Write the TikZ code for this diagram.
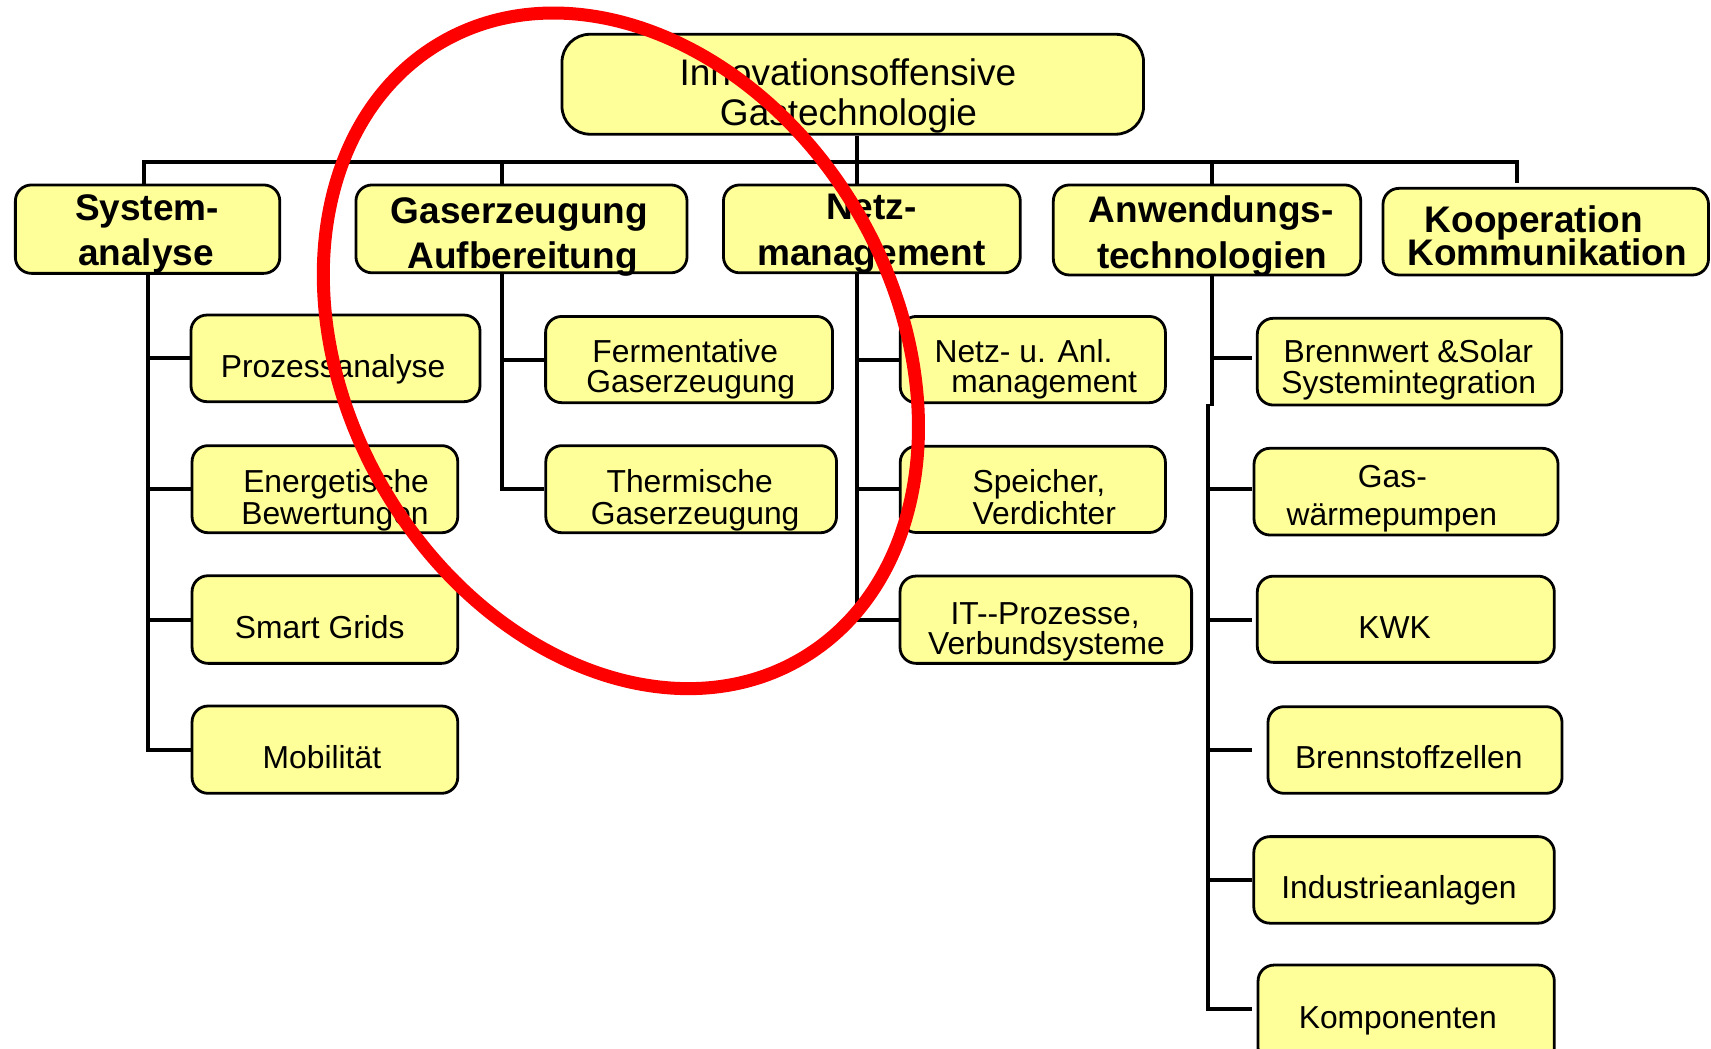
\documentclass[tikz,border=0pt]{standalone}
\usepackage{fontspec}
\setmainfont{Liberation Sans}
\usetikzlibrary{fit,backgrounds}
\definecolor{boxyellow}{HTML}{FFFF99}
\begin{document}
\begin{tikzpicture}[x=1.0912pt, y=-1.0912pt,
  box/.style={draw=black, line width=2.8pt, fill=boxyellow, rounded corners=16pt, inner sep=0pt},
  rootbox/.style={box, rounded corners=28pt},
  conn/.style={draw=black, line width=4pt},
  tzero/.style={font=\fontsize{37}{37}\selectfont, inner sep=0pt, anchor=base},
  tone/.style={font=\fontsize{37}{37}\selectfont\bfseries, inner sep=0pt, anchor=base},
  ttwo/.style={font=\fontsize{31.8}{31.8}\selectfont, inner sep=0pt, anchor=base}]
\useasboundingbox (0,0) rectangle (1568,961);
\clip (0,0) rectangle (1568,961);

% ---------- boxes ----------
\node[rootbox, fit={(515,31.4) (1048,123)}] (root) {};
\node[box, fit={(14.1,169.5) (256.4,250.5)}] (sys) {};
\node[box, fit={(326.2,169.5) (629.6,250)}] (gas) {};
\node[box, fit={(663,169.5) (935,250)}] (netz) {};
\node[box, fit={(965.3,169.5) (1247,252)}] (anw) {};
\node[box, fit={(1267.4,172.6) (1565.7,252)}] (koop) {};

\node[box, fit={(175,288.7) (439.9,368.1)}] (proz) {};
\node[box, fit={(176,408.4) (419.5,488.2)}] (energ) {};
\node[box, fit={(176,527.6) (419.5,607.9)}] (smart) {};
\node[box, fit={(176,647) (419.5,727)}] (mob) {};

\node[box, fit={(500,290) (763,369)}] (ferm) {};
\node[box, fit={(500.2,408.4) (766.6,488.2)}] (therm) {};

\node[box, fit={(825,290) (1068,369)}] (nanl) {};
\node[box, fit={(825,409) (1068,488)}] (speich) {};
\node[box, fit={(824.8,527.9) (1092,607.9)}] (it) {};

\node[box, fit={(1152.2,291.7) (1431.2,371.2)}] (brenn) {};
\node[box, fit={(1149.2,410.8) (1427.8,490.3)}] (gasw) {};
\node[box, fit={(1152.2,528) (1424.4,607)}] (kwk) {};
\node[box, fit={(1162,647.6) (1431.5,727)}] (bz) {};
\node[box, fit={(1149,766.7) (1424.4,846)}] (ind) {};
\node[box, fit={(1152.9,884.4) (1424.4,975)}] (komp) {};

% ---------- texts ----------
\node[tzero] (root-a) at (777,77.9) {Innovationsoffensive};
\node[tzero] (root-b) at (777.6,115) {Gastechnologie};

\node[tone] (sys-a) at (134.7,202) {System-};
\node[tone] (sys-b) at (133.8,243.3) {analyse};
\node[tone] (gas-a) at (476,205) {Gaserzeugung};
\node[tone] (gas-b) at (479,246) {Aufbereitung};
\node[tone] (netz-a) at (798.5,201) {Netz-};
\node[tone] (netz-b) at (798.5,243.3) {management};
\node[tone] (anw-a) at (1110,204) {Anwendungs-};
\node[tone] (anw-b) at (1110.8,246.4) {technologien};
\node[tone] (koop-a) at (1405.6,212.8) {Kooperation};
\node[tone] (koop-b) at (1418,243.3) {Kommunikation};

\node[ttwo] (proz-a) at (305.2,346.3) {Prozessanalyse};
\node[ttwo] (energ-a) at (308,451.6) {Energetische};
\node[ttwo] (energ-b) at (307,480.5) {Bewertungen};
\node[ttwo] (smart-a) at (293,585.5) {Smart Grids};
\node[ttwo] (mob-a) at (295,704.6) {Mobilität};

\node[ttwo] (ferm-a) at (628,332.5) {Fermentative};
\node[ttwo] (ferm-b) at (633,360) {Gaserzeugung};
\node[ttwo] (therm-a) at (632,451.6) {Thermische};
\node[ttwo] (therm-b) at (637,480.5) {Gaserzeugung};

\node[ttwo] (nanl-a) at (938,332.5) {Netz- u. Anl.};
\node[ttwo] (nanl-b) at (957,359.5) {management};
\node[ttwo] (speich-a) at (952,451.6) {Speicher,};
\node[ttwo] (speich-b) at (957,480.5) {Verdichter};
\node[ttwo] (it-a) at (957.7,572.2) {IT-{}-Prozesse,};
\node[ttwo] (it-b) at (959,599.5) {Verbundsysteme};

\node[ttwo] (brenn-a) at (1290.6,332.5) {Brennwert \&Solar};
\node[ttwo] (brenn-b) at (1291,361) {Systemintegration};
\node[ttwo] (gasw-a) at (1276,447) {Gas-};
\node[ttwo] (gasw-b) at (1275.5,481.6) {wärmepumpen};
\node[ttwo] (kwk-a) at (1278,585.5) {KWK};
\node[ttwo] (bz-a) at (1291,704.6) {Brennstoffzellen};
\node[ttwo] (ind-a) at (1282,823.7) {Industrieanlagen};
\node[ttwo] (komp-a) at (1281,942.9) {Komponenten};

% ---------- connectors ----------
\coordinate (bl) at (131.7,148.5);
\coordinate (br) at (1389.8,148.5);
\coordinate (kd) at (1389.8,168);
\coordinate (gx) at (460,250);
\coordinate (nx) at (785,123);
\coordinate (ax) at (1110.4,250);
\coordinate (astep) at (1110.4,372);
\coordinate (ax2) at (1107.3,370);
\coordinate (ab1) at (1147,328.4);
\coordinate (ab2) at (1147,448.1);
\coordinate (ab3) at (1147,568.2);
\coordinate (ab4) at (1147,687.3);
\coordinate (ab5) at (1147,806.4);
\coordinate (ab6) at (1147,925);

\begin{scope}[on background layer]
  % bus
  \draw[conn] (sys.north -| bl) -- (bl) -- (br) -- (kd);
  \draw[conn] (gx |- bl) -- (gas.north -| gx);
  \draw[conn] (ax |- bl) -- (anw.north -| ax);
  % Systemanalyse
  \draw[conn] (sys.south) |- (mob.west);
  \foreach \n in {proz,energ,smart} \draw[conn] (sys.south |- \n.west) -- (\n.west);
  % Gaserzeugung
  \draw[conn] (gas.south -| gx) |- (therm.west);
  \draw[conn] (gx |- ferm.west) -- (ferm.west);
  % Netzmanagement (root stem passes behind Netz box)
  \draw[conn] (root.south -| nx) |- (it.west);
  \foreach \n in {nanl,speich} \draw[conn] (nx |- \n.west) -- (\n.west);
  % Anwendungstechnologien
  \draw[conn] (anw.south -| ax) -- (astep);
  \draw[conn] (ax |- ab1) -- (ab1);
  \draw[conn] (ax2) |- (ab6);
  \foreach \c in {ab2,ab3,ab4,ab5} \draw[conn] (ax2 |- \c) -- (\c);
\end{scope}

% ---------- red ellipse ----------
\draw[red, line width=13pt, rotate around={-59.65:(569,321.5)}] (569,321.5) ellipse [x radius=356.9pt, y radius=274.3pt];
\end{tikzpicture}
\end{document}
